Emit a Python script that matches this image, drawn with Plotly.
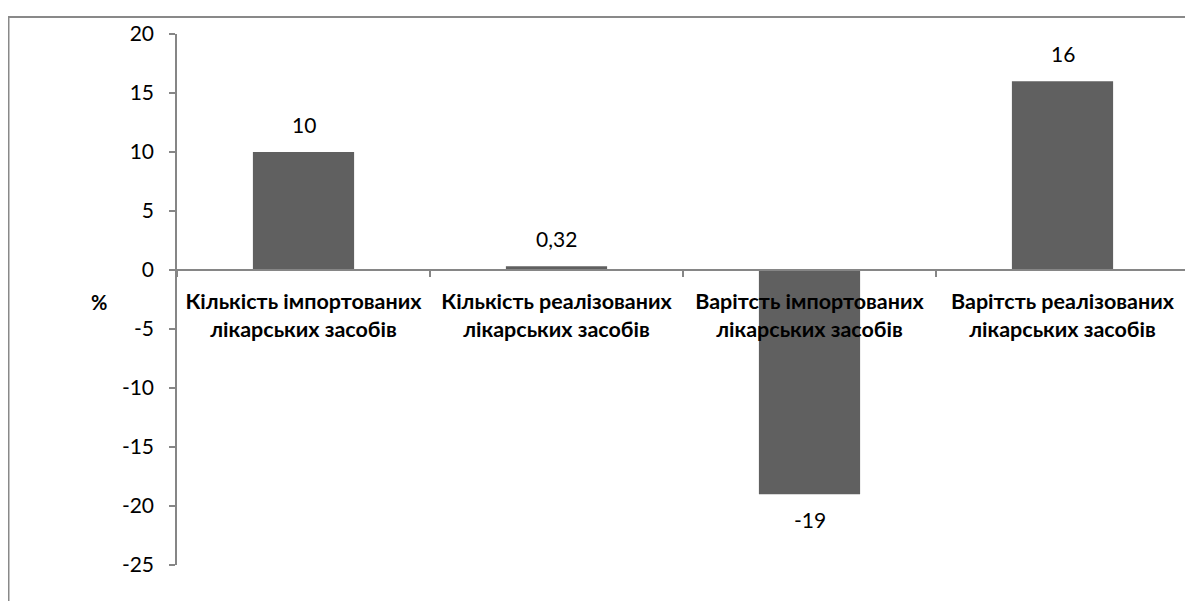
import plotly.graph_objects as go

categories = [
    "Кількість імпортованих<br>лікарських засобів",
    "Кількість реалізованих<br>лікарських засобів",
    "Варітсть імпортованих<br>лікарських засобів",
    "Варітсть реалізованих<br>лікарських засобів",
]
values = [10, 0.32, -19, 16]
y_ticks = [20, 15, 10, 5, 0, -5, -10, -15, -20, -25]
y_title = "%"

FONT = "Lato"
fig = go.Figure()
fig.add_trace(go.Bar(
    x=categories, y=values, width=0.4,
    marker=dict(color="#606060", line=dict(width=0)),
    showlegend=False, hoverinfo="skip",
))

for c, v in zip(categories, values):
    lab = ("%g" % v).replace(".", ",")
    fig.add_annotation(
        x=c, y=v, text=lab, showarrow=False,
        yanchor="bottom" if v >= 0 else "top",
        yshift=13 if v >= 0 else -11,
        font=dict(family=FONT, size=21, color="#000000"),
    )

fig.add_annotation(
    xref="paper", yref="y", x=-0.077, y=-2.75, text="<b>" + y_title + "</b>", showarrow=False,
    font=dict(family=FONT, size=20, color="#000000"), xanchor="center", yanchor="middle",
)

# chart border
fig.add_shape(type="rect", xref="paper", yref="paper",
              x0=-0.1665, x1=1.2, y0=-0.3, y1=1.0318,
              line=dict(color="#898989", width=2), fillcolor="rgba(0,0,0,0)", layer="below")

fig.update_layout(
    width=1193, height=601,
    margin=dict(l=169, r=12, t=23, b=44),
    paper_bgcolor="white", plot_bgcolor="white",
    font=dict(family=FONT, size=21, color="#000000"),
    xaxis=dict(
        anchor="free", position=25 / 45,
        showline=True, linecolor="#868686", linewidth=1.5,
        ticks="outside", tickson="boundaries", ticklen=6, tickcolor="#868686", tickwidth=1.5,
        tickfont=dict(family=FONT, size=21.5, color="#000000", weight="bold"),
        showgrid=False, zeroline=False, fixedrange=True, ticklabelstandoff=12,
    ),
    yaxis=dict(
        range=[-25, 20], tickvals=y_ticks, ticktext=[str(t) for t in y_ticks],
        showline=True, linecolor="#868686", linewidth=1.5,
        ticks="outside", ticklen=6, tickcolor="#868686", tickwidth=1.5,
        tickfont=dict(family=FONT, size=21, color="#000000"),
        showgrid=False, zeroline=False, ticklabelstandoff=11,
    ),
)

fig.write_html("out.html")
